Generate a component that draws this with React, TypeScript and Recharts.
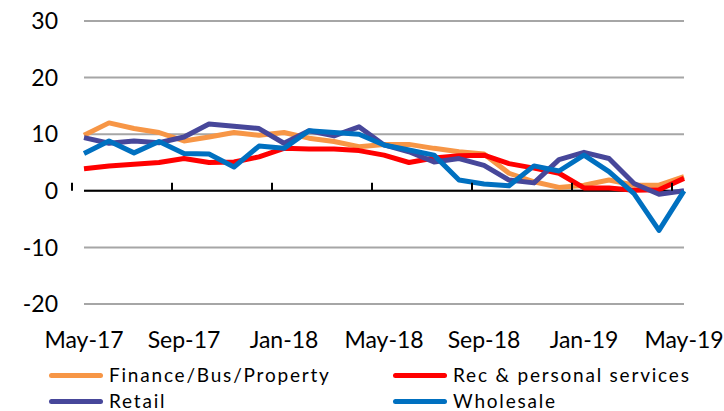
import { LineChart, Line, XAxis, YAxis, CartesianGrid, ReferenceLine } from "recharts";

const months = [
  "May-17", "Jun-17", "Jul-17", "Aug-17", "Sep-17", "Oct-17", "Nov-17", "Dec-17",
  "Jan-18", "Feb-18", "Mar-18", "Apr-18", "May-18", "Jun-18", "Jul-18", "Aug-18",
  "Sep-18", "Oct-18", "Nov-18", "Dec-18", "Jan-19", "Feb-19", "Mar-19", "Apr-19",
  "May-19",
];

const financeBusProperty = [
  9.8, 12, 11, 10.3, 8.8, 9.5, 10.3, 9.8, 10.3, 9.3, 8.7, 7.8, 8.2, 8.2, 7.5, 6.9,
  6.5, 3.1, 1.6, 0.6, 1, 1.9, 1, 1, 2.5,
];
const recPersonalServices = [
  3.9, 4.4, 4.7, 5, 5.7, 5, 5.1, 6, 7.5, 7.4, 7.4, 7.1, 6.3, 5, 5.8, 6.2,
  6.3, 4.8, 4, 3.1, 0.5, 0.5, 0.1, 0.2, 2.2,
];
const retail = [
  9.4, 8.4, 8.8, 8.5, 9.5, 11.8, 11.4, 11, 8.4, 10.6, 9.7, 11.3, 8.1, 6.9, 5.1, 5.7,
  4.5, 1.9, 1.4, 5.5, 6.8, 5.7, 1.3, -0.6, 0,
];
const wholesale = [
  6.6, 8.8, 6.7, 8.7, 6.6, 6.5, 4.2, 7.9, 7.5, 10.6, 10.3, 10, 8.1, 7.2, 6.3, 1.9,
  1.2, 0.9, 4.4, 3.5, 6.3, 3.4, -0.5, -7, 0,
];

const yTicks = [-20, -10, 0, 10, 20, 30];

const series = [
  { key: "finance", name: "Finance/Bus/Property", color: "#F79646" },
  { key: "rec", name: "Rec & personal services", color: "#FF0000" },
  { key: "retail", name: "Retail", color: "#47479A" },
  { key: "wholesale", name: "Wholesale", color: "#0070C0" },
];

const data = months.map((month, i) => ({
  month,
  finance: financeBusProperty[i],
  rec: recPersonalServices[i],
  retail: retail[i],
  wholesale: wholesale[i],
}));

const FONT = "Lato, 'Open Sans', sans-serif";
// plot area: top 21, height 283, domain -20..30 -> zero line
const ZERO_Y = 21 + (283 * 30) / 50;
const HALF_BAND = 12;

const MonthTick = (props: any) => {
  const { x, y, payload } = props;
  return (
    <g>
      <line
        x1={x - HALF_BAND}
        x2={x - HALF_BAND}
        y1={ZERO_Y - 8}
        y2={ZERO_Y}
        stroke="#000"
        strokeWidth={2}
      />
      <text
        x={x}
        y={y + 44}
        textAnchor="middle"
        fontSize={23}
        fill="#000"
        fontFamily={FONT}
      >
        {payload.value}
      </text>
    </g>
  );
};

export default function App() {
  return (
    <div style={{ position: "relative", width: 724, height: 411, fontFamily: FONT, background: "#fff" }}>
      <style>{`body{margin:0}`}</style>
      <LineChart
        width={724}
        height={360}
        data={data}
        margin={{ top: 21, right: 40, left: 0, bottom: 0 }}
      >
        <CartesianGrid vertical={false} stroke="#A6A6A6" strokeWidth={2} />
        <XAxis
          dataKey="month"
          interval={3}
          height={56}
          axisLine={false}
          tickLine={false}
          tickSize={0}
          tickMargin={0}
          tick={<MonthTick />}
        />
        <YAxis
          type="number"
          domain={[-20, 30]}
          ticks={yTicks}
          width={84}
          axisLine={false}
          tickLine={false}
          tickSize={0}
          tickMargin={26}
          tick={{ fontSize: 23, fill: "#000", fontFamily: FONT }}
        />
        <ReferenceLine y={0} stroke="#000" strokeWidth={2} />
        {series.map((s) => (
          <Line
            key={s.key}
            dataKey={s.key}
            name={s.name}
            stroke={s.color}
            strokeWidth={5}
            strokeLinejoin="round"
            dot={false}
            isAnimationActive={false}
          />
        ))}
      </LineChart>
      <div
        style={{
          position: "absolute",
          top: 362,
          left: 49,
          display: "grid",
          gridTemplateColumns: "344px 300px",
        }}
      >
        {series.map((s) => (
          <div key={s.key} style={{ display: "flex", alignItems: "center", height: 26 }}>
            <span
              style={{
                display: "inline-block",
                width: 54,
                height: 5,
                borderRadius: 3,
                background: s.color,
                marginRight: 6,
              }}
            />
            <span style={{ fontSize: 19, lineHeight: "26px", letterSpacing: 1.8, color: "#000" }}>{s.name}</span>
          </div>
        ))}
      </div>
    </div>
  );
}
